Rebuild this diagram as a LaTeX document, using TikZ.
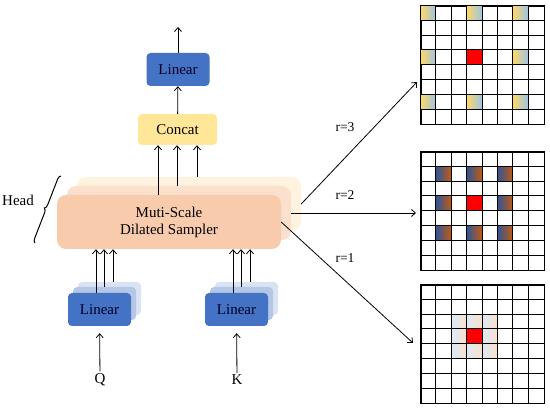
\documentclass[tikz,border=0pt]{standalone}
\usepackage{fontspec}
\setmainfont{Liberation Serif}
\usetikzlibrary{arrows.meta, positioning, decorations.pathreplacing}
\definecolor{linblue}{HTML}{4472C4}
\definecolor{linblueA}{HTML}{B4C7E7}
\definecolor{linblueB}{HTML}{DAE3F3}
\definecolor{concatyel}{HTML}{FFE699}
\definecolor{sampfront}{HTML}{F8CBAD}
\definecolor{sampmid}{HTML}{FBE0CE}
\definecolor{sampback}{HTML}{FEF3DE}
\definecolor{celyel}{HTML}{FFD966}
\definecolor{celblue}{HTML}{9DC3E6}
\definecolor{celdblue}{HTML}{2F5597}
\definecolor{celorange}{HTML}{C55A11}
\tikzset{
    lnode/.style={rectangle, rounded corners=4pt, fill=linblue, minimum width=63pt, minimum height=33pt, inner sep=0pt, text=black!85!blue, font=\fontsize{15}{17}\selectfont},
    lnodeA/.style={lnode, fill=linblueA},
    lnodeB/.style={lnode, fill=linblueB},
    cnode/.style={rectangle, rounded corners=4pt, fill=concatyel, minimum width=79pt, minimum height=31pt, inner sep=0pt, font=\fontsize{15}{17}\selectfont},
    snode/.style={rectangle, rounded corners=9pt, fill=sampfront, minimum width=224pt, minimum height=54pt, inner sep=0pt, align=center, font=\fontsize{15}{17}\selectfont},
    gridbox/.style={rectangle, draw, line width=0.9pt, fill=white, minimum width=123pt, minimum height=118.4pt, inner sep=0pt},
    txt/.style={font=\fontsize{15}{17}\selectfont, inner sep=1pt},
    rlab/.style={font=\fontsize{13.5}{15}\selectfont, inner sep=1pt},
    arr/.style={draw, line width=0.8pt, -{Straight Barb[length=4pt, width=7pt]}},
}

\begin{document}
\begin{tikzpicture}[x=1pt, y=-1pt]
    \useasboundingbox (0,0) rectangle (550,409);

    % sampler heads
    \node[snode, fill=sampback] (back) at (189,204) {};
    \node[snode, fill=sampmid] (mid) at (179,213) {};
    \node[snode] (front) at (169,222) {Muti-Scale\\Dilated Sampler};

    \node[cnode] (concat) at (177.5,129.5) {Concat};
    \node[lnode] (lout) at (178,69.5) {Linear};
    \coordinate (out) at (178,27);

    % linear for Q and K
    \foreach \n/\cx in {lq/99.5, lk/236.5} {
        \node[lnodeB] (\n2) at (\cx+10,298.5) {};
        \node[lnodeA] (\n1) at (\cx+5,303.5) {};
        \node[lnode] (\n) at (\cx,309.5) {Linear};
    }
    \node[txt] (q) at (100,380) {Q};
    \node[txt] (k) at (237,380) {K};

    \draw[arr, shorten <=1pt, shorten >=7pt] (q) -- (lq);
    \draw[arr, shorten <=1pt, shorten >=7pt] (k) -- (lk);
    \foreach \n/\dx in {lq/-3.5, lq1/-0.5, lq2/3.5, lk/-3.5, lk1/-0.5, lk2/3.5}
        \draw[arr] ([xshift=\dx]\n.north) -- ([xshift=\dx]\n.north |- front.south);
    \foreach \n/\dx in {front/-11, mid/-2, back/8}
        \draw[arr] ([xshift=\dx]\n.north) -- ([xshift=\dx]\n.north |- concat.south);
    \draw[arr] (concat) -- (lout);
    \draw[arr] (lout) -- (out);

    % head brace
    \node[txt] (head) at (18,200) {Head};
    \coordinate (hb) at (35,243);
    \coordinate (ht) at (61,176);
    \draw[line width=1pt, decorate, decoration={brace, amplitude=4pt}] (hb) -- (ht);

    % sampling grids
    \node[gridbox] (g3) at (482.5,65.2) {};
    \node[gridbox] (g2) at (482.5,211.2) {};
    \node[gridbox] (g1) at (482.5,344.2) {};
    \begin{scope}[shift={(g3.north west)}]
        \foreach \c in {0,3,6} \foreach \r in {0,3,6}
            \shade[left color=celyel, right color=celblue] (\c*15.375,\r*14.8) rectangle ++(15.375,14.8);
    \end{scope}
    \begin{scope}[shift={(g2.north west)}]
        \foreach \c in {1,3,5} \foreach \r in {1,3,5}
            \shade[left color=celdblue, right color=celorange] (\c*15.375,\r*14.8) rectangle ++(15.375,14.8);
    \end{scope}
    \begin{scope}[shift={(g1.north west)}]
        \foreach \c in {2,3,4} \foreach \r in {2,3,4}
            \shade[left color=celblue!35, right color=sampfront!60] (\c*15.375,\r*14.8) rectangle ++(15.375,14.8);
    \end{scope}
    \foreach \g in {g1,g2,g3} {
        \begin{scope}[shift={(\g.north west)}]
            \fill[red] (3*15.375,3*14.8) rectangle ++(15.375,14.8);
            \foreach \i in {1,...,7} {
                \draw[line width=0.9pt] (\i*15.375,0) -- (\i*15.375,118.4);
                \draw[line width=0.9pt] (0,\i*14.8) -- (123,\i*14.8);
            }
        \end{scope}
        \draw[line width=0.9pt] (\g.north west) rectangle (\g.south east);
    }

    % dilation rates
    \coordinate (e3) at (417,82);
    \coordinate (e2) at (416,213);
    \coordinate (e1) at (413,343);
    \draw[arr] (back.east) -- (e3);
    \draw[arr] (mid.east) -- (e2);
    \draw[arr] (front.east) -- (e1);
    \node[rlab] (r3) at (345,127) {r=3};
    \node[rlab] (r2) at (345,195) {r=2};
    \node[rlab] (r1) at (345,258) {r=1};
\end{tikzpicture}
\end{document}
